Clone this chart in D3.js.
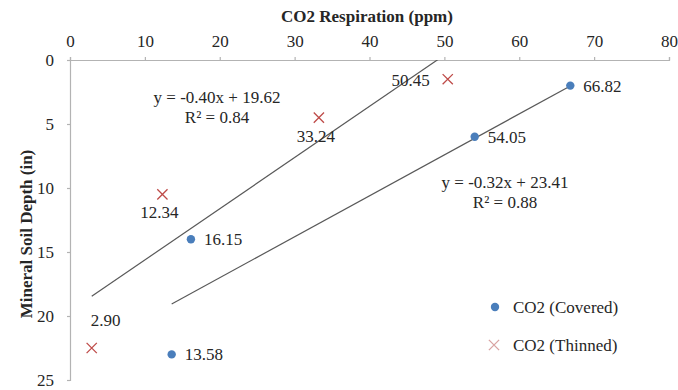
<!DOCTYPE html>
<html>
<head>
<meta charset="utf-8">
<script src="https://cdn.jsdelivr.net/npm/d3@7"></script>
<style>
  html, body { margin: 0; padding: 0; background: #fff; }
  svg { display: block; }
  text { font-family: "Liberation Serif", "Times New Roman", serif; fill: #262626; }
</style>
</head>
<body>
<svg id="chart" width="678" height="390"></svg>
<script>
// Soil CO2 respiration by mineral soil depth, two stand treatments
const coveredCO2   = [16.15, 13.58, 54.05, 66.82];
const coveredDepth = [14, 23, 6, 2];
const thinnedCO2   = [2.90, 12.34, 33.24, 50.45];
const thinnedDepth = [22.5, 10.5, 4.5, 1.5];
const thinnedLabelSide = ["aboveRight", "below", "below", "left"];

// Linear trendlines: depth = slope * CO2 + intercept
const thinnedFit = { slope: -0.40, intercept: 19.62, r2: 0.84 };
const coveredFit = { slope: -0.32, intercept: 23.41, r2: 0.88 };

const xTicks = [0, 10, 20, 30, 40, 50, 60, 70, 80];
const yTicks = [0, 5, 10, 15, 20, 25];

const seriesNames = ["CO2 (Covered)", "CO2 (Thinned)"];
const blue = "#4a7ebb";
const red = "#be4b48";
const fs = 17;

const svg = d3.select("#chart");
const x = d3.scaleLinear().domain([0, 80]).range([70, 669]);
const y = d3.scaleLinear().domain([0, 25]).range([60, 380]);

const axisColor = "#b3b3b3";

// top x axis
const gx = svg.append("g").attr("transform", `translate(0,${y(0)})`)
  .call(d3.axisTop(x).tickValues(xTicks).tickSize(3).tickPadding(10).tickFormat(d3.format("d")));
// left y axis
const gy = svg.append("g").attr("transform", `translate(${x(0)},0)`)
  .call(d3.axisLeft(y).tickValues(yTicks).tickSize(3).tickPadding(13).tickFormat(d3.format("d")));
[gx, gy].forEach(g => {
  g.select(".domain").attr("stroke", axisColor).attr("stroke-width", 1.2);
  g.selectAll(".tick line").attr("stroke", axisColor).attr("stroke-width", 1.2);
  g.selectAll(".tick text").attr("font-size", fs).attr("font-family", "Liberation Serif").attr("fill", "#262626");
});

// axis titles
svg.append("text").attr("x", 367).attr("y", 22).attr("text-anchor", "middle")
  .attr("font-size", fs).attr("font-weight", "bold").text("CO2 Respiration (ppm)");
svg.append("text").attr("transform", `translate(32,234) rotate(-90)`).attr("text-anchor", "middle")
  .attr("font-size", fs).attr("font-weight", "bold").text("Mineral Soil Depth (in)");

// clip for trendlines
svg.append("clipPath").attr("id", "plot").append("rect")
  .attr("x", x(0)).attr("y", y(0)).attr("width", x(80) - x(0)).attr("height", y(25) - y(0));

function trend(fit, xs) {
  const x0 = d3.min(xs), x1 = d3.max(xs);
  svg.append("line")
    .attr("clip-path", "url(#plot)")
    .attr("x1", x(x0)).attr("y1", y(fit.slope * x0 + fit.intercept))
    .attr("x2", x(x1)).attr("y2", y(fit.slope * x1 + fit.intercept))
    .attr("stroke", "#595959").attr("stroke-width", 1.2);
}
trend(thinnedFit, thinnedCO2);
trend(coveredFit, coveredCO2);

function eqText(fit, cx, cy) {
  const sign = fit.intercept >= 0 ? "+" : "-";
  svg.append("text").attr("x", cx).attr("y", cy).attr("text-anchor", "middle").attr("font-size", fs)
    .text(`y = ${fit.slope.toFixed(2)}x ${sign} ${Math.abs(fit.intercept).toFixed(2)}`);
  svg.append("text").attr("x", cx).attr("y", cy + 20).attr("text-anchor", "middle").attr("font-size", fs)
    .text(`R² = ${fit.r2.toFixed(2)}`);
}
eqText(thinnedFit, 217, 103);
eqText(coveredFit, 505, 188);

// covered points
const covered = coveredCO2.map((v, i) => ({ v, d: coveredDepth[i] }));
svg.selectAll(".cov").data(covered).enter().append("circle")
  .attr("cx", p => x(p.v)).attr("cy", p => y(p.d)).attr("r", 4.2).attr("fill", blue);
svg.selectAll(".covLab").data(covered).enter().append("text")
  .attr("x", p => x(p.v) + 13).attr("y", p => y(p.d) + 6).attr("font-size", fs)
  .text(p => p.v.toFixed(2));

// thinned points
const thinned = thinnedCO2.map((v, i) => ({ v, d: thinnedDepth[i], side: thinnedLabelSide[i] }));
const cross = d3.symbol().type(d3.symbolX).size(70);
svg.selectAll(".thin").data(thinned).enter().append("path")
  .attr("d", cross).attr("transform", p => `translate(${x(p.v)},${y(p.d)})`)
  .attr("fill", "none").attr("stroke", red).attr("stroke-width", 1.3);
const offs = { aboveRight: [14, -22, "middle"], below: [-3, 24, "middle"], left: [-18, 7, "end"] };
svg.selectAll(".thinLab").data(thinned).enter().append("text")
  .attr("x", p => x(p.v) + offs[p.side][0]).attr("y", p => y(p.d) + offs[p.side][1])
  .attr("text-anchor", p => offs[p.side][2]).attr("font-size", fs)
  .text(p => p.v.toFixed(2));

// legend
const lg = svg.append("g");
lg.append("circle").attr("cx", 495).attr("cy", 307).attr("r", 4.2).attr("fill", blue);
lg.append("path").attr("d", cross).attr("transform", "translate(494,345)")
  .attr("fill", "none").attr("stroke", "#d9a3a2").attr("stroke-width", 1.3);
lg.selectAll(".lt").data(seriesNames).enter().append("text")
  .attr("x", 513).attr("y", (d, i) => 313 + i * 38).attr("font-size", fs).text(d => d);
</script>
</body>
</html>
